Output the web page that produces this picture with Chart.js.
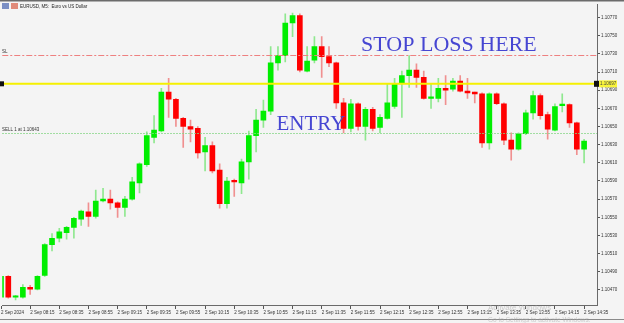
<!DOCTYPE html>
<html>
<head>
<meta charset="utf-8">
<script src="https://cdn.jsdelivr.net/npm/chart.js@4.4.1/dist/chart.umd.min.js"></script>
<style>
  html, body { margin: 0; padding: 0; background: #f4f4f4; }
  #wrap { width: 624px; height: 323px; position: relative; }
</style>
</head>
<body>
<div id="wrap"><canvas id="c" width="624" height="323"></canvas></div>
<script>
// EURUSD M5, 2 Sep 2024, 07:55 .. 14:35
const times = ['07:55','08:00','08:05','08:10','08:15','08:20','08:25','08:30','08:35','08:40',
  '08:45','08:50','08:55','09:00','09:05','09:10','09:15','09:20','09:25','09:30',
  '09:35','09:40','09:45','09:50','09:55','10:00','10:05','10:10','10:15','10:20',
  '10:25','10:30','10:35','10:40','10:45','10:50','10:55','11:00','11:05','11:10',
  '11:15','11:20','11:25','11:30','11:35','11:40','11:45','11:50','11:55','12:00',
  '12:05','12:10','12:15','12:20','12:25','12:30','12:35','12:40','12:45','12:50',
  '12:55','13:00','13:05','13:10','13:15','13:20','13:25','13:30','13:35','13:40',
  '13:45','13:50','13:55','14:00','14:05','14:10','14:15','14:20','14:25','14:30','14:35'];

const opens = [1.10462,1.10485,1.10462,1.10462,1.10473,1.10471,1.10486,1.10520,1.10527,1.10533,
  1.10539,1.10548,1.10556,1.10551,1.10568,1.10570,1.10566,1.10561,1.10570,1.10588,
  1.10608,1.10638,1.10645,1.10688,1.10680,1.10659,1.10650,1.10648,1.10622,1.10629,
  1.10602,1.10565,1.10590,1.10588,1.10611,1.10640,1.10657,1.10667,1.10720,1.10728,
  1.10764,1.10772,1.10711,1.10723,1.10738,1.10727,1.10720,1.10676,1.10648,1.10675,
  1.10650,1.10669,1.10649,1.10659,1.10672,1.10698,1.10706,1.10712,1.10704,1.10681,
  1.10681,1.10692,1.10691,1.10700,1.10689,1.10688,1.10686,1.10632,1.10686,1.10675,
  1.10635,1.10625,1.10642,1.10665,1.10684,1.10663,1.10646,1.10673,1.10674,1.10654,1.10625];
const highs = [1.10487,1.10486,1.10464,1.10476,1.10475,1.10486,1.10521,1.10532,1.10538,1.10540,
  1.10550,1.10558,1.10566,1.10580,1.10582,1.10580,1.10567,1.10573,1.10594,1.10610,
  1.10644,1.10662,1.10692,1.10703,1.10681,1.10660,1.10657,1.10650,1.10638,1.10633,
  1.10609,1.10594,1.10592,1.10614,1.10645,1.10669,1.10679,1.10738,1.10738,1.10774,
  1.10775,1.10774,1.10738,1.10749,1.10749,1.10738,1.10721,1.10681,1.10680,1.10676,
  1.10671,1.10671,1.10663,1.10697,1.10703,1.10711,1.10728,1.10719,1.10711,1.10697,
  1.10703,1.10706,1.10703,1.10706,1.10703,1.10688,1.10687,1.10687,1.10687,1.10676,
  1.10643,1.10643,1.10668,1.10689,1.10686,1.10666,1.10675,1.10686,1.10675,1.10655,1.10636];
const lows = [1.10460,1.10461,1.10459,1.10461,1.10465,1.10470,1.10485,1.10513,1.10523,1.10526,
  1.10527,1.10541,1.10540,1.10549,1.10567,1.10559,1.10550,1.10551,1.10569,1.10577,
  1.10606,1.10632,1.10644,1.10660,1.10650,1.10627,1.10633,1.10615,1.10601,1.10599,
  1.10560,1.10560,1.10573,1.10576,1.10592,1.10622,1.10649,1.10663,1.10712,1.10721,
  1.10749,1.10710,1.10710,1.10720,1.10704,1.10716,1.10670,1.10643,1.10644,1.10646,
  1.10635,1.10645,1.10643,1.10658,1.10670,1.10660,1.10693,1.10693,1.10680,1.10670,
  1.10677,1.10674,1.10689,1.10688,1.10681,1.10676,1.10627,1.10625,1.10674,1.10630,
  1.10613,1.10624,1.10641,1.10658,1.10658,1.10636,1.10645,1.10666,1.10649,1.10619,1.10610];
const closes = [1.10485,1.10462,1.10463,1.10473,1.10471,1.10485,1.10520,1.10527,1.10534,1.10539,
  1.10549,1.10557,1.10551,1.10568,1.10570,1.10566,1.10561,1.10570,1.10589,1.10609,
  1.10640,1.10646,1.10688,1.10680,1.10659,1.10650,1.10647,1.10621,1.10629,1.10601,
  1.10565,1.10590,1.10589,1.10611,1.10640,1.10657,1.10667,1.10720,1.10728,1.10764,
  1.10772,1.10712,1.10722,1.10738,1.10727,1.10720,1.10676,1.10648,1.10675,1.10650,
  1.10669,1.10648,1.10660,1.10676,1.10697,1.10706,1.10712,1.10704,1.10681,1.10682,
  1.10692,1.10690,1.10700,1.10689,1.10687,1.10686,1.10632,1.10686,1.10675,1.10635,
  1.10625,1.10642,1.10665,1.10684,1.10662,1.10647,1.10672,1.10674,1.10654,1.10625,1.10634];

const priceTicks = [1.10470,1.10490,1.10510,1.10530,1.10550,1.10570,1.10590,1.10610,
  1.10630,1.10650,1.10670,1.10690,1.10710,1.10730,1.10750,1.10770];
const timeTickBars = [0,4,8,12,16,20,24,28,32,36,40,44,48,52,56,60,64,68,72,76,80];
const timeTickLabels = ['2 Sep 2024','2 Sep 08:15','2 Sep 08:35','2 Sep 08:55','2 Sep 09:15',
  '2 Sep 09:35','2 Sep 09:55','2 Sep 10:15','2 Sep 10:35','2 Sep 10:55','2 Sep 11:15',
  '2 Sep 11:35','2 Sep 11:55','2 Sep 12:15','2 Sep 12:35','2 Sep 12:55','2 Sep 13:15',
  '2 Sep 13:35','2 Sep 13:55','2 Sep 14:15','2 Sep 14:35'];

const slPrice = 1.10729;
const bidPrice = 1.10697;
const sellPrice = 1.10643;

const UP = '#00ee00', DOWN = '#ff0000';
const UP_WICK = '#8fe88f', DOWN_WICK = '#f09090';
const isUp = i => closes[i] >= opens[i];
const tiny = '4.5px "Liberation Sans", Arial, sans-serif';

const background = {
  id: 'background',
  beforeDraw(chart) {
    const ctx = chart.ctx;
    ctx.save();
    ctx.fillStyle = '#f4f4f4';
    ctx.fillRect(0, 0, chart.width, chart.height);
    ctx.restore();
  }
};

const overlays = {
  id: 'overlays',
  afterDatasetsDraw(chart) {
    const ctx = chart.ctx;
    const { left, right } = chart.chartArea;
    const xs = chart.scales.x, ys = chart.scales.y;
    ctx.save();

    // window top border
    ctx.fillStyle = '#6b6b6b';
    ctx.fillRect(0, 0, chart.width, 1.5);

    // stop loss, dash-dot
    let y = Math.round(ys.getPixelForValue(slPrice)) + 0.5;
    ctx.strokeStyle = '#ee8080';
    ctx.lineWidth = 1;
    ctx.setLineDash([6, 2, 2, 2]);
    ctx.beginPath(); ctx.moveTo(left, y); ctx.lineTo(right, y); ctx.stroke();
    ctx.setLineDash([]);
    ctx.fillStyle = '#333';
    ctx.font = tiny;
    ctx.textBaseline = 'bottom';
    ctx.fillText('SL', 2, y - 1);

    // sell entry, dotted
    y = Math.round(ys.getPixelForValue(sellPrice)) + 0.5;
    ctx.strokeStyle = '#86d686';
    ctx.setLineDash([1.5, 1.5]);
    ctx.beginPath(); ctx.moveTo(left, y); ctx.lineTo(right, y); ctx.stroke();
    ctx.setLineDash([]);
    ctx.fillText('SELL 1 at 1.10643', 2, y - 1);

    // yellow horizontal line
    y = ys.getPixelForValue(bidPrice);
    ctx.strokeStyle = '#f5f000';
    ctx.lineWidth = 2;
    ctx.beginPath(); ctx.moveTo(left, y); ctx.lineTo(right, y); ctx.stroke();
    ctx.fillStyle = '#111';
    ctx.fillRect(0, y - 2.5, 4, 5);
    ctx.fillRect(right - 3, y - 3, 5, 6);
    ctx.fillStyle = '#f8f43a';
    ctx.fillRect(right + 2, y - 3.5, 18, 7);
    ctx.fillStyle = '#444';
    ctx.textBaseline = 'middle';
    ctx.fillText(bidPrice.toFixed(5), right + 3, y);

    // big labels
    ctx.fillStyle = '#4646d2';
    ctx.textBaseline = 'alphabetic';
    ctx.font = '22px "Liberation Serif", "Times New Roman", serif';
    ctx.fillText('STOP LOSS HERE', xs.getPixelForValue(49.4), ys.getPixelForValue(1.10733));
    ctx.font = '21px "Liberation Serif", "Times New Roman", serif';
    ctx.fillText('ENTRY', xs.getPixelForValue(37.8), ys.getPixelForValue(1.10646));

    // chart header
    ctx.fillStyle = '#7b8fc4';
    ctx.fillRect(2, 3, 7, 6);
    ctx.fillStyle = '#e08a7a';
    ctx.fillRect(11, 3, 7, 6);
    ctx.fillStyle = '#222';
    ctx.font = tiny;
    ctx.textBaseline = 'middle';
    ctx.fillText('EURUSD, M5:  Euro vs US Dollar', 20, 6.5);

    // bottom tab strip
    ctx.fillStyle = '#8a8a8a';
    ctx.fillRect(0, 319, chart.width, 1);

    // watermark
    ctx.fillStyle = 'rgba(170,170,170,0.55)';
    ctx.font = '8px "Liberation Sans", Arial, sans-serif';
    ctx.textBaseline = 'alphabetic';
    ctx.fillText('Activate Windows', 488, 310);
    ctx.font = '6.5px "Liberation Sans", Arial, sans-serif';
    ctx.fillText('Go to Settings to activate Windows.', 488, 322);
    ctx.restore();
  }
};

new Chart(document.getElementById('c'), {
  type: 'bar',
  data: {
    datasets: [
      {
        label: 'wicks',
        data: times.map((t, i) => ({ x: i, y: [lows[i], highs[i]] })),
        backgroundColor: times.map((t, i) => isUp(i) ? UP_WICK : DOWN_WICK),
        barThickness: 1,
        grouped: false,
        borderWidth: 0,
        order: 2
      },
      {
        label: 'bodies',
        data: times.map((t, i) => ({ x: i, y: [opens[i], closes[i]] })),
        backgroundColor: times.map((t, i) => isUp(i) ? UP : DOWN),
        barThickness: 5,
        minBarLength: 1.5,
        grouped: false,
        borderWidth: 0,
        order: 1
      }
    ]
  },
  options: {
    responsive: false,
    animation: false,
    devicePixelRatio: 1,
    layout: { padding: { top: 4, left: 0, right: 0, bottom: 0 } },
    plugins: { legend: { display: false }, tooltip: { enabled: false } },
    scales: {
      x: {
        type: 'linear',
        offset: false,
        min: 0.172,
        max: 81.77,
        afterBuildTicks: scale => { scale.ticks = timeTickBars.map(v => ({ value: v })); },
        afterFit: scale => { scale.height = 18; },
        grid: { offset: false, drawOnChartArea: false, drawTicks: true, tickLength: 4, color: '#555' },
        border: { color: '#6a6a6a', width: 1 },
        ticks: {
          autoSkip: false, maxRotation: 0, align: 'start', padding: 1,
          color: '#333', font: { family: '"Liberation Sans", Arial', size: 4.5 },
          callback: (v, idx) => timeTickLabels[idx]
        }
      },
      y: {
        position: 'right',
        min: 1.1045348,
        max: 1.1078487,
        afterBuildTicks: scale => { scale.ticks = priceTicks.map(v => ({ value: v })); },
        afterFit: scale => { scale.width = 27; },
        grid: { drawOnChartArea: false, drawTicks: true, tickLength: 3, color: '#555' },
        border: { color: '#6a6a6a', width: 1 },
        ticks: {
          padding: 1, color: '#333', font: { family: '"Liberation Sans", Arial', size: 4.5 },
          callback: v => v.toFixed(5)
        }
      }
    }
  },
  plugins: [background, overlays]
});
</script>
</body>
</html>
